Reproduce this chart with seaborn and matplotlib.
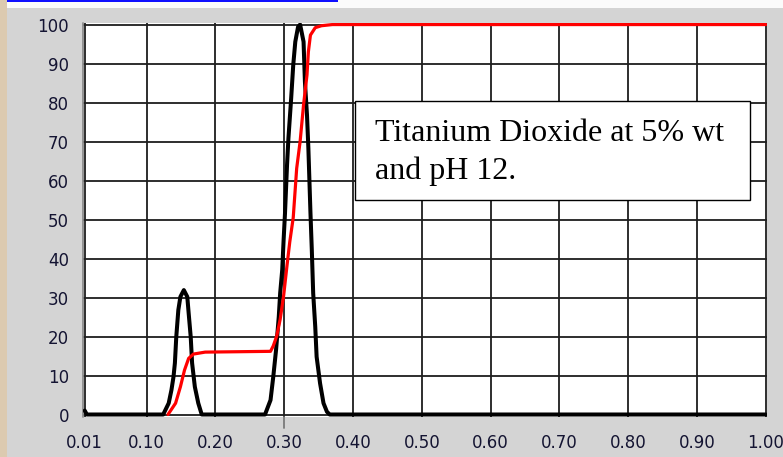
import matplotlib
matplotlib.use('Agg')
import matplotlib.pyplot as plt
from matplotlib.patches import Rectangle
import seaborn as sns

# distribution curve (black)
black_x = [0.010, 0.013, 0.124, 0.132, 0.136, 0.139, 0.141, 0.143, 0.146, 0.149,
           0.154, 0.159, 0.161, 0.164, 0.166, 0.170, 0.175, 0.180, 0.272, 0.280,
           0.284, 0.288, 0.292, 0.294, 0.297, 0.299, 0.301, 0.304, 0.306, 0.310,
           0.313, 0.316, 0.320, 0.323, 0.328, 0.330, 0.333, 0.335, 0.338, 0.340,
           0.342, 0.345, 0.347, 0.352, 0.357, 0.362, 0.366, 1.000]
black_y = [1.0, 0.0, 0.0, 2.9, 6.3, 9.7, 13.2, 19.9, 26.8, 30.2,
           31.9, 30.2, 26.0, 19.9, 13.2, 7.1, 2.9, 0.0, 0.0, 3.7,
           9.7, 16.5, 25.1, 31.1, 37.1, 44.7, 51.5, 64.0, 70.8, 81.1,
           89.6, 95.6, 99.4, 100.0, 95.6, 85.3, 76.8, 68.3, 51.9, 42.2,
           31.1, 22.5, 14.8, 8.0, 2.9, 0.7, 0.0, 0.0]

# cumulative curve (red)
red_x = [0.131, 0.142, 0.149, 0.155, 0.161, 0.168, 0.185, 0.280, 0.284, 0.289,
         0.294, 0.299, 0.304, 0.308, 0.313, 0.318, 0.323, 0.328, 0.333, 0.335,
         0.338, 0.345, 0.354, 0.370, 1.000]
red_y = [0.0, 2.9, 7.1, 11.4, 14.4, 15.5, 16.0, 16.2, 17.6, 20.1,
         24.4, 30.4, 38.3, 44.3, 50.5, 63.1, 70.0, 79.4, 87.1, 93.0,
         97.3, 99.2, 99.7, 100.0, 100.0]

x_ticks = [0.01, 0.10, 0.20, 0.30, 0.40, 0.50, 0.60, 0.70, 0.80, 0.90, 1.00]
x_labels = ['0.01', '0.10', '0.20', '0.30', '0.40', '0.50', '0.60', '0.70', '0.80', '0.90', '1.00']
y_ticks = [0, 10, 20, 30, 40, 50, 60, 70, 80, 90, 100]
cursor_x = 0.30

note_lines = ['Titanium Dioxide at 5% wt', 'and pH 12.']

sns.set_style('white')
plt.rcParams['font.family'] = ['DejaVu Sans']

W, H = 783, 457
fig = plt.figure(figsize=(W / 100, H / 100), dpi=100, facecolor='#d4d4d4')
ax = fig.add_axes([82.7 / W, 40 / H, (767 - 82.7) / W, (417 - 23) / H])
ax.set_facecolor('white')

sns.lineplot(x=black_x, y=black_y, ax=ax, color='black', lw=2.9,
             estimator=None, sort=False, zorder=3)
sns.lineplot(x=red_x, y=red_y, ax=ax, color='#ff0000', lw=2.3,
             estimator=None, sort=False, zorder=4)

ax.set_xlim(0.007, 1.0016)
ax.set_ylim(-0.64, 100.4)
ax.set_xticks(x_ticks)
ax.set_xticklabels(x_labels)
ax.set_yticks(y_ticks)

# grid
ax.grid(True, color='#1e1e1e', lw=1.3, zorder=1)
ax.set_axisbelow(True)
xgl = ax.xaxis.get_gridlines()
xgl[0].set_visible(False)
xgl[-1].set_visible(False)
xgl[x_ticks.index(cursor_x)].set_color('#7a7a7a')
ax.axvline(cursor_x, ymin=-0.028, ymax=0, color='#7a7a7a', lw=1.3, clip_on=False)

for s in ['top', 'right', 'bottom', 'left']:
    ax.spines[s].set_visible(False)
ax.spines['bottom'].set_position(('outward', 4.3))
ax.spines['left'].set_position(('outward', 2.2))
ax.plot([0, 0], [0, 1], transform=ax.transAxes, color='#8c8c8c', lw=1.3, clip_on=False)

lab_col = '#141432'
ax.tick_params(axis='x', direction='out', length=3.8, width=1.1, color='#333333',
               pad=4.0, labelsize=12, labelcolor=lab_col)
ax.tick_params(axis='y', direction='out', length=5.8, width=1.1, color='#333333',
               pad=1.8, labelsize=12, labelcolor=lab_col)
ax.set_xlabel('')
ax.set_ylabel('')

# window decoration around the panel
fig.add_artist(Rectangle((0, 1 - 8 / H), 1, 8 / H, transform=fig.transFigure,
                         facecolor='#fbfbfb', edgecolor='none', zorder=0))
fig.add_artist(Rectangle((6 / W, 1 - 2 / H), 332 / W, 2 / H, transform=fig.transFigure,
                         facecolor='#1010ff', edgecolor='none', zorder=1))
fig.add_artist(Rectangle((0, 0), 7 / W, 1, transform=fig.transFigure,
                         facecolor='#dccab0', edgecolor='none', zorder=1))

# note box
fig.add_artist(Rectangle((355 / W, (H - 200) / H), 395 / W, 99.3 / H, transform=fig.transFigure,
                         facecolor='white', edgecolor='black', lw=1.0, zorder=5))
for i, line in enumerate(note_lines):
    fig.text(375 / W, (H - 141 - 38 * i) / H, line, fontsize=23,
             family=['Liberation Serif', 'DejaVu Serif'], va='baseline', ha='left',
             color='black', zorder=6)

fig.savefig('out.png', dpi=100, facecolor=fig.get_facecolor())
